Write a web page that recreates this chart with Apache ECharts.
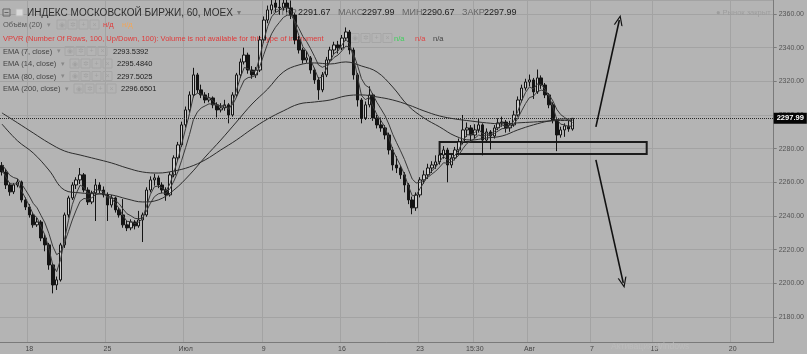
<!DOCTYPE html>
<html><head><meta charset="utf-8">
<script src="https://cdn.jsdelivr.net/npm/echarts@6/dist/echarts.min.js"></script>
<style>html,body{margin:0;padding:0;background:#b4b4b4;}#c{width:807px;height:354px;}</style>
</head><body><div id="c"></div>
<script>
// ---- data (hourly MOEX index, aggregated to 4 bars per day) ----
const slots = ["10:00","12:00","15:30","17:00"];
const tickLabels = {"2018-06-18 10:00":"18","2018-06-25 10:00":"25","2018-07-02 10:00":"Июл","2018-07-09 10:00":"9",
 "2018-07-16 10:00":"16","2018-07-23 10:00":"23","2018-07-26 15:30":"15:30","2018-08-01 10:00":"Авг",
 "2018-08-07 10:00":"7","2018-08-13 10:00":"13","2018-08-20 10:00":"20"};
const opens = [2270.0,2266.1,2258.4,2254.3,2258.4,2260.2,2249.5,2245.3,2240.6,2234.7,
2236.4,2226.9,2222.8,2210.9,2199.0,2202.0,2222.8,2240.6,2250.7,2258.4,
2261.4,2264.4,2255.4,2248.3,2253.7,2258.4,2255.4,2252.5,2246.5,2250.7,
2243.6,2240.6,2234.7,2232.9,2236.4,2234.1,2237.6,2240.6,2255.4,2261.4,
2262.6,2258.4,2255.4,2252.5,2264.4,2274.5,2282.2,2294.1,2303.0,2311.9,
2323.8,2314.9,2311.9,2308.9,2310.1,2306.0,2303.0,2304.2,2306.0,2300.0,
2311.9,2323.8,2331.5,2335.6,2326.7,2323.8,2326.7,2344.6,2356.4,2362.4,
2366.5,2364.0,2363.6,2366.5,2363.6,2359.4,2344.6,2338.6,2332.7,2333.9,
2326.7,2320.8,2314.9,2323.8,2332.7,2338.6,2341.6,2339.8,2345.7,2349.3,
2338.6,2323.8,2308.9,2298.2,2306.0,2311.9,2298.2,2294.1,2292.3,2288.1,
2279.2,2270.3,2268.5,2264.4,2258.4,2249.5,2244.8,2252.5,2261.4,2264.4,
2268.5,2270.3,2272.1,2276.2,2279.2,2270.3,2274.5,2279.2,2284.0,2291.1,
2292.3,2288.1,2291.1,2294.1,2285.1,2289.9,2287.5,2292.3,2295.3,2295.8,
2292.3,2294.1,2300.0,2308.9,2316.0,2319.6,2320.8,2313.7,2322.0,2317.8,
2311.9,2306.0,2297.0,2288.1,2291.1,2293.5,2291.67];
const closes = [2266.1,2258.4,2254.3,2258.4,2260.2,2249.5,2245.3,2240.6,2234.7,2236.4,
2226.9,2222.8,2210.9,2199.0,2202.0,2222.8,2240.6,2250.7,2258.4,2261.4,
2264.4,2255.4,2248.3,2253.7,2258.4,2255.4,2252.5,2246.5,2250.7,2243.6,
2240.6,2234.7,2232.9,2236.4,2234.1,2237.6,2240.6,2255.4,2261.4,2262.6,
2258.4,2255.4,2252.5,2264.4,2274.5,2282.2,2294.1,2303.0,2311.9,2323.8,
2314.9,2311.9,2308.9,2310.1,2306.0,2303.0,2304.2,2306.0,2300.0,2311.9,
2323.8,2331.5,2335.6,2326.7,2323.8,2326.7,2344.6,2356.4,2362.4,2365.4,
2364.0,2363.6,2366.5,2363.6,2359.4,2344.6,2338.6,2332.7,2333.9,2326.7,
2320.8,2314.9,2323.8,2332.7,2338.6,2341.6,2339.8,2345.7,2349.3,2338.6,
2323.8,2308.9,2298.2,2306.0,2311.9,2298.2,2294.1,2292.3,2288.1,2279.2,
2270.3,2268.5,2264.4,2258.4,2249.5,2244.8,2252.5,2261.4,2264.4,2268.5,
2270.3,2272.1,2276.2,2279.2,2270.3,2274.5,2279.2,2284.0,2291.1,2292.3,
2288.1,2291.1,2294.1,2285.1,2289.9,2287.5,2292.3,2295.3,2295.8,2292.3,
2294.1,2300.0,2308.9,2316.0,2319.6,2320.8,2313.7,2322.0,2317.8,2311.9,
2306.0,2297.0,2288.1,2291.1,2293.5,2291.7,2297.99];
const highs = [2272.0,2268.0,2260.0,2259.5,2262.0,2261.0,2251.0,2247.0,2242.0,2239.0,
2237.5,2229.0,2224.0,2212.0,2204.0,2224.0,2242.0,2252.0,2260.0,2263.0,
2268.5,2265.5,2257.0,2255.0,2262.0,2260.0,2257.5,2254.0,2252.5,2251.5,
2245.0,2250.0,2237.0,2238.0,2237.5,2243.0,2242.0,2257.0,2263.5,2265.0,
2264.0,2260.0,2257.0,2266.0,2276.0,2284.0,2296.0,2305.0,2314.0,2328.0,
2325.0,2318.0,2313.5,2313.0,2311.0,2307.5,2307.0,2309.0,2307.0,2313.5,
2325.0,2333.5,2340.0,2337.0,2329.0,2328.5,2347.0,2358.5,2365.0,2371.0,
2372.0,2369.0,2372.0,2370.0,2368.0,2360.5,2347.0,2340.0,2338.0,2335.0,
2328.0,2322.5,2325.5,2334.5,2340.5,2343.5,2344.0,2347.5,2352.0,2350.5,
2340.0,2325.0,2310.0,2308.0,2317.0,2313.0,2300.0,2298.5,2294.0,2289.5,
2281.0,2275.5,2270.0,2266.0,2259.5,2251.5,2254.0,2263.0,2267.0,2271.0,
2272.5,2276.0,2279.0,2281.5,2280.5,2276.5,2281.0,2286.0,2300.0,2295.5,
2294.0,2294.5,2297.5,2295.0,2292.0,2291.0,2294.0,2298.0,2299.0,2297.0,
2296.5,2302.5,2311.0,2318.0,2321.5,2324.0,2322.0,2327.0,2323.5,2319.0,
2313.0,2307.5,2298.5,2293.0,2295.0,2296.5,2297.99];
const lows = [2264.0,2256.0,2252.0,2253.0,2257.0,2248.0,2243.5,2239.0,2233.0,2233.5,
2225.0,2219.0,2208.0,2194.0,2196.0,2201.0,2221.0,2239.0,2249.5,2256.0,
2259.0,2254.0,2246.5,2247.0,2237.0,2253.5,2251.0,2237.0,2245.0,2242.0,
2239.0,2233.0,2231.0,2231.5,2232.0,2233.0,2224.5,2239.5,2254.0,2258.0,
2256.5,2253.5,2249.0,2251.5,2263.0,2273.0,2281.0,2292.5,2301.5,2310.5,
2313.0,2310.0,2307.0,2307.5,2304.0,2298.5,2301.5,2302.5,2295.0,2299.0,
2310.5,2322.0,2330.0,2324.5,2321.5,2322.0,2325.5,2343.0,2354.5,2360.0,
2361.0,2359.5,2362.0,2361.0,2357.0,2342.0,2336.5,2330.5,2331.0,2324.5,
2318.5,2309.0,2313.5,2322.5,2331.5,2336.0,2336.5,2338.5,2344.0,2336.0,
2321.0,2305.0,2295.0,2297.0,2304.5,2296.5,2292.0,2290.0,2285.5,2276.5,
2267.0,2265.5,2262.0,2254.0,2247.0,2241.0,2243.0,2251.0,2259.0,2262.0,
2265.5,2268.0,2270.5,2274.0,2260.0,2268.5,2273.0,2277.5,2282.5,2287.0,
2284.5,2286.0,2289.5,2276.0,2283.5,2279.5,2286.0,2291.0,2293.0,2289.5,
2290.0,2293.0,2299.0,2307.5,2314.5,2317.0,2309.5,2312.5,2315.5,2310.0,
2304.0,2295.0,2278.5,2286.5,2287.0,2290.0,2290.67];
const ema7 = [2267.1,2263.2,2259.2,2258.8,2259.4,2255.0,2250.6,2246.1,2241.0,2238.9,
2233.5,2228.7,2220.7,2210.9,2206.9,2214.1,2226.0,2237.1,2246.7,2253.3,
2258.3,2257.0,2253.1,2253.4,2255.6,2255.5,2254.2,2250.7,2250.7,2247.5,
2244.4,2240.0,2236.8,2236.6,2235.5,2236.4,2238.3,2246.0,2252.9,2257.3,
2257.8,2256.7,2254.8,2259.1,2266.0,2273.3,2282.7,2291.8,2300.8,2311.2,
2312.9,2312.4,2310.8,2310.5,2308.5,2306.0,2305.2,2305.6,2303.1,2307.1,
2314.6,2322.2,2328.2,2327.5,2325.8,2326.2,2334.5,2344.4,2352.5,2358.3,
2360.9,2362.1,2364.1,2363.9,2361.9,2354.1,2347.1,2340.6,2337.6,2332.7,
2327.3,2321.7,2322.7,2327.2,2332.3,2336.5,2338.0,2341.5,2345.0,2342.1,
2333.9,2322.6,2311.6,2309.1,2310.4,2304.9,2300.0,2296.6,2292.8,2286.7,
2279.3,2274.4,2269.9,2264.7,2257.9,2252.0,2252.2,2256.3,2260.0,2263.8,
2266.7,2269.1,2272.3,2275.4,2273.1,2273.7,2276.2,2279.7,2284.8,2288.2,
2288.2,2289.5,2291.6,2288.7,2289.2,2288.4,2290.2,2292.5,2294.0,2293.2,
2293.6,2296.5,2302.1,2308.4,2313.4,2316.7,2315.4,2318.4,2318.1,2315.3,
2311.1,2304.8,2297.3,2294.5,2294.1,2293.0,2293.54];
const ema14 = [2270.5,2267.5,2264.2,2262.8,2262.1,2259.0,2255.6,2251.8,2247.5,2244.8,
2240.3,2235.9,2229.7,2222.0,2217.0,2218.5,2224.0,2230.7,2237.6,2243.5,
2248.7,2250.4,2249.9,2250.8,2252.7,2253.4,2253.2,2251.5,2251.3,2249.4,
2247.2,2244.1,2241.3,2240.1,2238.6,2238.3,2238.9,2243.0,2247.6,2251.4,
2253.1,2253.7,2253.4,2256.2,2260.7,2266.1,2273.1,2280.6,2288.4,2297.3,
2301.7,2304.2,2305.4,2306.6,2306.4,2305.6,2305.2,2305.4,2304.1,2306.0,
2310.5,2315.7,2320.7,2322.2,2322.6,2323.6,2328.9,2335.8,2342.4,2348.2,
2352.1,2355.0,2357.9,2359.3,2359.3,2355.6,2351.4,2346.7,2343.5,2339.3,
2334.7,2329.7,2328.3,2329.4,2331.7,2334.2,2335.6,2338.1,2340.9,2340.3,
2336.2,2329.4,2321.6,2317.7,2316.2,2311.7,2307.3,2303.6,2299.7,2294.6,
2288.5,2283.5,2278.7,2273.6,2267.6,2261.9,2259.6,2260.0,2261.1,2263.0,
2264.8,2266.6,2269.0,2271.6,2271.3,2272.1,2273.9,2276.4,2280.1,2283.1,
2284.4,2286.1,2288.1,2287.3,2288.0,2287.9,2289.0,2290.5,2291.9,2292.0,
2292.5,2294.4,2298.0,2302.5,2306.8,2310.3,2311.1,2313.8,2314.8,2314.1,
2312.1,2308.3,2303.3,2300.2,2298.5,2296.9,2295.48];
// EMA 80 / 200 read once per trading day (every 4th bar) plus the last bar
const ema80Daily = [2294.6,2284.6,2277.4,2267.3,2255.4,2253.7,2253.1,2252.5,2250.1,2248.3,
2249.5,2255.4,2264.4,2275.0,2285.1,2295.8,2306.5,2315.4,2325.5,2329.7,
2330.9,2330.3,2331.5,2329.1,2325.5,2316.6,2305.4,2298.2,2292.9,2287.5,
2285.1,2286.3,2287.5,2291.1,2294.1,2296.4,2297.6,2297.5025];
const ema200Daily = [2301.2,2295.3,2289.3,2283.4,2278.6,2276.2,2273.9,2271.5,2268.5,2266.1,
2265.5,2266.7,2269.1,2273.3,2279.2,2285.1,2291.7,2297.6,2302.4,2306.5,
2307.7,2308.9,2311.3,2311.9,2310.7,2308.9,2306.0,2302.4,2299.4,2297.6,
2296.4,2295.3,2294.7,2295.3,2295.8,2296.4,2296.7,2296.6501];
const yTicks = [2180,2200,2220,2240,2260,2280,2300,2320,2340,2360];
// drawings on the chart (category, price)
const upArrow = [["2018-08-07 12:00",2292.9],["2018-08-08 17:00",2356.4]];
const downArrow = [["2018-08-07 12:00",2273.3],["2018-08-09 10:00",2200.2]];
const zoneBox = [["2018-07-24 12:00",2284.0],["2018-08-10 15:30",2276.8]];

// ---- categories: trading days x slots ----
const NCAT = 198;
const categories = [];
(function(){
  const d = new Date(Date.UTC(2018,5,14));
  const all = [];
  while (all.length < NCAT + 1) {
    const wd = d.getUTCDay();
    if (wd >= 1 && wd <= 5) {
      const s = d.toISOString().slice(0,10);
      slots.forEach(t => all.push(s + " " + t));
    }
    d.setUTCDate(d.getUTCDate() + 1);
  }
  all.shift();
  for (let i = 0; i < NCAT; i++) categories.push(all[i]);
})();
const n = closes.length;
const candleData = closes.map((c,i) => [opens[i], c, lows[i], highs[i]]);
function spread(samples){
  const arr = new Array(n).fill(null);
  samples.forEach((v,k) => { arr[Math.min(k*4, n-1)] = v; });
  return arr;
}
const lastClose = closes[n-1];

const chart = echarts.init(document.getElementById('c'), null, {renderer:'canvas'});
const F = '"Liberation Sans", Arial, sans-serif';
function T(x,y,text,fill,size,extra){ return Object.assign({type:'text', x:x, y:y, z:1, silent:true,
  style:{text:text, fill:fill, font: size + 'px ' + F, verticalAlign:'middle'}}, extra||{}); }
function icons(x,y){
  const out=[]; const sym=['◉','✲','+','×'];
  for(let k=0;k<4;k++){
    out.push({type:'rect', z:1, silent:true, shape:{x:x+k*11, y:y-5, width:9, height:9},
      style:{fill:'rgba(0,0,0,0)', stroke:'#a6a6a6', lineWidth:1}});
    out.push(T(x+k*11+4.5, y, sym[k], '#a2a2a2', 7, {style:{text:sym[k], fill:'#a2a2a2', font:'7px '+F, verticalAlign:'middle', align:'center'}}));
  }
  return out;
}
const graphics = [
  {type:'rect', z:1, silent:true, shape:{x:3,y:9,width:7,height:7}, style:{fill:'rgba(0,0,0,0)', stroke:'#666', lineWidth:1}},
  {type:'line', z:1, silent:true, shape:{x1:4.5,y1:12.5,x2:8.5,y2:12.5}, style:{stroke:'#666', lineWidth:1}},
  {type:'rect', z:1, silent:true, shape:{x:16,y:9,width:7,height:7}, style:{fill:'#d9d9d9', stroke:'#bbb', lineWidth:1}},
  T(27,13,'ИНДЕКС МОСКОВСКОЙ БИРЖИ, 60, MOEX','#2e2e2e',10),
  T(237,13,'▾','#777',8),
  T(273,13,'ОТКР','#666',9), T(298,13,'2291.67','#1e1e1e',9),
  T(338,13,'МАКС','#666',9), T(362,13,'2297.99','#1e1e1e',9),
  T(402,13,'МИН','#666',9),  T(422,13,'2290.67','#1e1e1e',9),
  T(462,13,'ЗАКР','#666',9), T(484,13,'2297.99','#1e1e1e',9),
  T(3,25,'Объём (20)','#555',7.5), T(47,25,'▾','#888',7),
  T(103,25,'н/д','#e03c3c',7.5), T(122,25,'н/д','#f0a65a',7.5),
  T(3,38.5,'VPVR (Number Of Rows, 100, Up/Down, 100): Volume is not available for this type of instrument','#e03a3a',7.5),
  T(394,38.5,'n/a','#3fd05c',7.5), T(415,38.5,'n/a','#e04444',7.5), T(433,38.5,'n/a','#444',7.5),
  T(3,51.5,'EMA (7, close)','#444',7.5), T(57,51.5,'▾','#888',7), T(113,51.5,'2293.5392','#222',7.5),
  T(3,64,'EMA (14, close)','#444',7.5), T(61,64,'▾','#888',7), T(117,64,'2295.4840','#222',7.5),
  T(3,76.5,'EMA (80, close)','#444',7.5), T(61,76.5,'▾','#888',7), T(117,76.5,'2297.5025','#222',7.5),
  T(3,89,'EMA (200, close)','#444',7.5), T(65,89,'▾','#888',7), T(121,89,'2296.6501','#222',7.5),
  T(716,13,'● Рынок закрыт','#9d9d9d',7.5),
  T(611,347,'Активация Windows','#bcbcbc',8.5)
].concat(icons(57,25), icons(350,38.5), icons(65,51.5), icons(70,64), icons(70,76.5), icons(74,89));

const chevron = 'path://M0,10 L5,0 L10,10 L8.6,10 L5,2.8 L1.4,10 Z';
const isTick = (idx, val) => tickLabels.hasOwnProperty(val);

chart.setOption({
  animation:false,
  backgroundColor:'#b4b4b4',
  grid:{left:0, right:33, top:0, bottom:12, containLabel:false},
  xAxis:{type:'category', data:categories, boundaryGap:true,
    axisLine:{show:true, lineStyle:{color:'#7a7a7a', width:1}},
    axisTick:{show:false},
    axisLabel:{interval:isTick, formatter:v => tickLabels[v] || '', color:'#474747', fontSize:7, margin:4, fontFamily:F},
    splitLine:{show:true, interval:isTick, lineStyle:{color:'#a3a3a3', width:1}}},
  yAxis:{type:'value', position:'right', min:2165.1, max:2368.3, minInterval:20, maxInterval:20,
    axisLine:{show:true, lineStyle:{color:'#7a7a7a'}},
    axisTick:{show:true, length:3, lineStyle:{color:'#7a7a7a'}},
    axisLabel:{color:'#555', fontSize:7, margin:5, fontFamily:F, showMinLabel:false, showMaxLabel:false,
      formatter:v => yTicks.indexOf(v) >= 0 ? v.toFixed(2) : ''},
    splitLine:{show:true, lineStyle:{color:'#a3a3a3', width:1}}},
  graphic: graphics,
  series:[
    {type:'candlestick', name:'MOEX', data:candleData, barWidth:3, z:3,
      itemStyle:{color:'#cfcfcf', color0:'#141414', borderColor:'#141414', borderColor0:'#141414', borderWidth:1},
      markLine:{silent:true, animation:false, symbol:['none','none'],
        data:[
          {yAxis:lastClose, lineStyle:{type:'dotted', color:'#2a2a2a', width:1},
            label:{show:true, position:'end', distance:0, formatter:lastClose.toFixed(2), color:'#fff',
              backgroundColor:'#050505', padding:[2,3,1,3], fontSize:7.5, fontWeight:'bold', fontFamily:F}},
          [{coord:upArrow[0], symbol:'none'}, {coord:upArrow[1], symbol:chevron, symbolSize:[9,11],
            lineStyle:{type:'solid', color:'#111', width:1.6}, label:{show:false}}],
          [{coord:downArrow[0], symbol:'none'}, {coord:downArrow[1], symbol:chevron, symbolSize:[9,11],
            lineStyle:{type:'solid', color:'#111', width:1.6}, label:{show:false}}]
        ]},
      markArea:{silent:true, data:[[{coord:zoneBox[0]},{coord:zoneBox[1]}]],
        itemStyle:{color:'rgba(0,0,0,0)', borderColor:'#1c1c1c', borderWidth:2}}},
    {type:'line', name:'EMA 7', data:ema7, symbol:'none', z:4, lineStyle:{color:'#3a3a3a', width:1}},
    {type:'line', name:'EMA 14', data:ema14, symbol:'none', z:4, lineStyle:{color:'#3a3a3a', width:1}},
    {type:'line', name:'EMA 80', data:spread(ema80Daily), connectNulls:true, smooth:0.4, symbol:'none', z:4, lineStyle:{color:'#2c2c2c', width:1}},
    {type:'line', name:'EMA 200', data:spread(ema200Daily), connectNulls:true, smooth:0.4, symbol:'none', z:4, lineStyle:{color:'#2c2c2c', width:1}}
  ]
});
</script></body></html>
